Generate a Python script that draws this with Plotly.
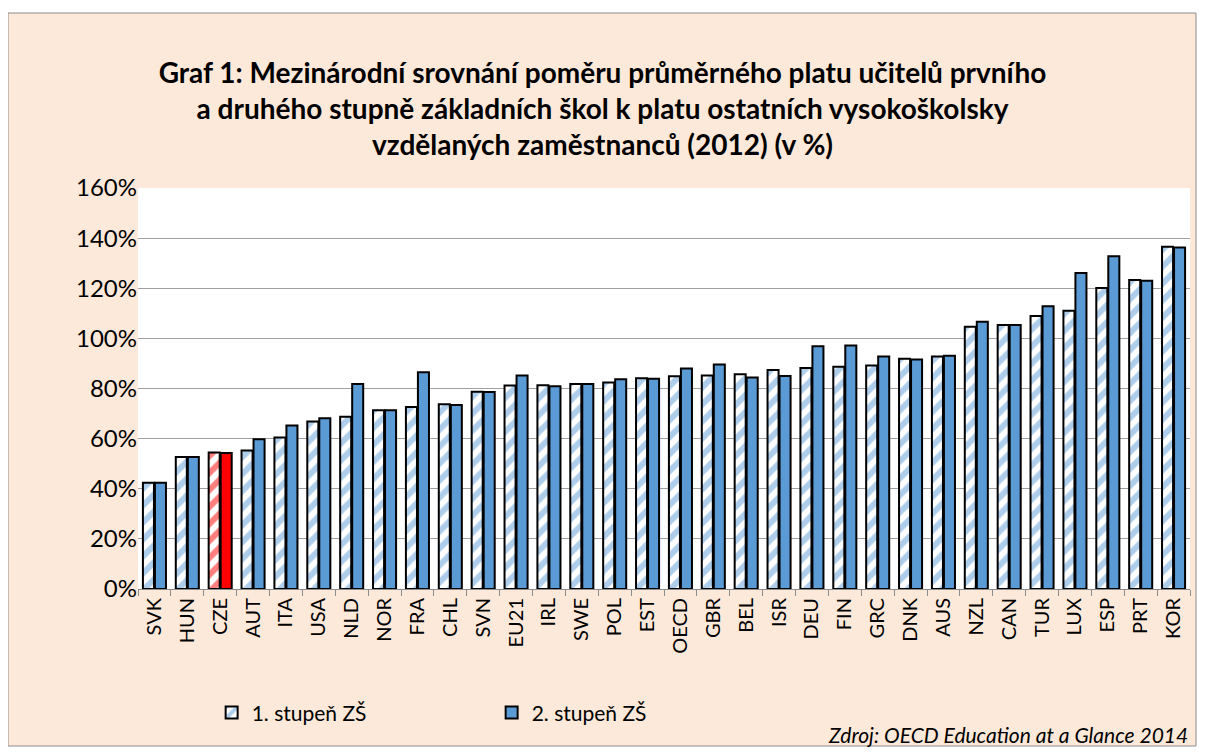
import plotly.graph_objects as go

countries = ["SVK", "HUN", "CZE", "AUT", "ITA", "USA", "NLD", "NOR", "FRA", "CHL",
             "SVN", "EU21", "IRL", "SWE", "POL", "EST", "OECD", "GBR", "BEL", "ISR",
             "DEU", "FIN", "GRC", "DNK", "AUS", "NZL", "CAN", "TUR", "LUX", "ESP",
             "PRT", "KOR"]
stupen1 = [42.4, 52.7, 54.5, 55.3, 60.4, 66.8, 68.7, 71.3, 72.6, 73.7,
           78.7, 81.2, 81.3, 81.8, 82.4, 84.1, 84.9, 85.2, 85.7, 87.4,
           88.2, 88.7, 89.2, 91.9, 92.8, 104.6, 105.3, 108.9, 111.0, 120.1,
           123.3, 136.6]
stupen2 = [42.4, 52.7, 54.3, 59.8, 65.2, 68.1, 81.8, 71.3, 86.5, 73.4,
           78.6, 85.2, 80.9, 81.8, 83.7, 83.9, 88.0, 89.6, 84.4, 85.0,
           96.9, 97.2, 92.8, 91.6, 93.1, 106.6, 105.3, 112.8, 126.1, 132.8,
           123.0, 136.3]
y_ticks = [0, 20, 40, 60, 80, 100, 120, 140, 160]

BLUE = "#5B9BD5"
RED = "#FF0000"
FONT = "Lato"

colors = [RED if c == "CZE" else BLUE for c in countries]

fig = go.Figure()
fig.add_trace(go.Bar(
    x=countries, y=stupen1, name="1. stupeň ZŠ",
    marker=dict(
        color="white",
        line=dict(color="black", width=2),
        pattern=dict(shape="/", fgcolor=colors, bgcolor="white",
                     size=12, solidity=0.5, fillmode="overlay"),
    ),
))
fig.add_trace(go.Bar(
    x=countries, y=stupen2, name="2. stupeň ZŠ",
    marker=dict(color=colors, line=dict(color="black", width=2)),
))

# page body has an 8px margin, so the figure is sized to fit inside it
fig.update_layout(
    width=1189,
    height=739,
    margin=dict(l=130, r=7, t=180, b=158),
    paper_bgcolor="white",
    plot_bgcolor="white",
    barmode="group",
    bargap=0.27,
    bargroupgap=0.08,
    font=dict(family=FONT, color="black"),
    title=dict(
        text="<b>Graf 1: Mezinárodní srovnání poměru průměrného platu učitelů prvního<br>"
             "a druhého stupně základních škol k platu ostatních vysokoškolsky<br>"
             "vzdělaných zaměstnanců (2012) (v %)</b>",
        x=0.5, xanchor="center", y=0.899, yanchor="top",
        font=dict(size=28, family=FONT),
    ),
    xaxis=dict(
        tickangle=-90,
        tickfont=dict(size=20),
        showgrid=False,
        showline=True, linecolor="#8C8C8C", linewidth=1,
        ticks="outside", tickson="boundaries", ticklen=6, tickcolor="#8C8C8C",
    ),
    yaxis=dict(
        range=[0, 160],
        tickvals=y_ticks,
        ticktext=[f"{v}%" for v in y_ticks],
        tickfont=dict(size=24),
        showgrid=True, gridcolor="#A0A0A0", gridwidth=1,
        zeroline=False, showline=False,
    ),
    legend=dict(
        orientation="h",
        x=0.07, xanchor="left",
        y=-0.309, yanchor="middle",
        font=dict(size=21),
        bgcolor="rgba(0,0,0,0)",
        itemwidth=30,
        entrywidth=235,
    ),
    shapes=[
        dict(type="rect", xref="paper", yref="paper", layer="below",
             x0=-0.1236, x1=1.0057, y0=-0.3915, y1=1.4364,
             fillcolor="#FDE9D9", line=dict(color="#8C8C8C", width=1)),
        dict(type="rect", xref="paper", yref="paper", layer="below",
             x0=0, x1=1, y0=0, y1=1,
             fillcolor="white", line=dict(width=0)),
    ],
    annotations=[
        dict(text="<i>Zdroj: OECD Education at a Glance 2014</i>",
             xref="paper", yref="paper", x=1.0, y=-0.364,
             xanchor="right", yanchor="middle", showarrow=False,
             font=dict(size=21, family=FONT)),
    ],
)

fig.write_html("out.html")
